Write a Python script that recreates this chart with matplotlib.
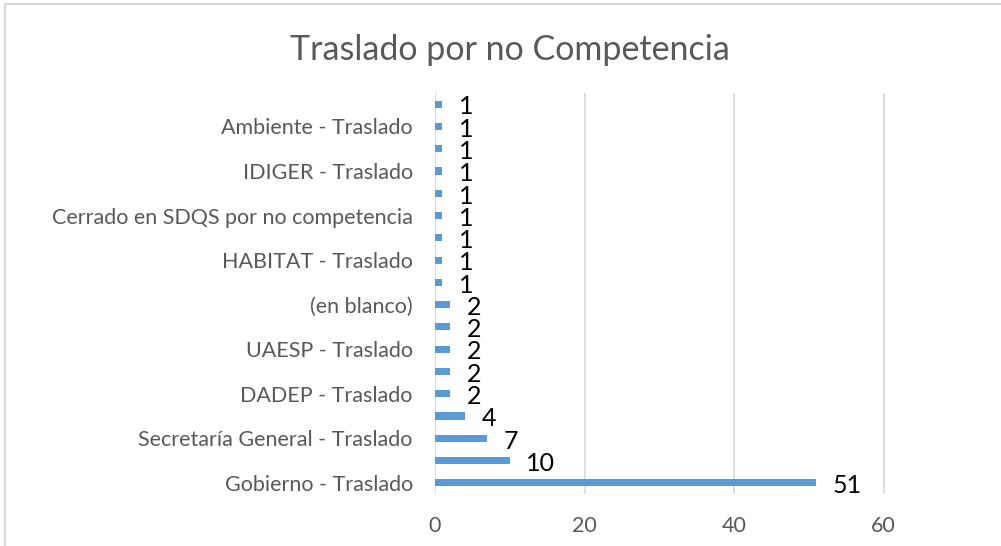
import matplotlib
matplotlib.use("Agg")
import matplotlib.pyplot as plt
from matplotlib.patches import Rectangle

# categories bottom -> top; Excel only printed every other label
categorias = ["Gobierno - Traslado", "", "Secretaría General - Traslado", "",
              "DADEP - Traslado", "", "UAESP - Traslado", "", "(en blanco)", "",
              "HABITAT - Traslado", "", "Cerrado en SDQS por no competencia", "",
              "IDIGER - Traslado", "", "Ambiente - Traslado", ""]
valores = [51, 10, 7, 4, 2, 2, 2, 2, 2, 1, 1, 1, 1, 1, 1, 1, 1, 1]
ticks_x = [0, 20, 40, 60, 80]
ticks_lbl = ["0", "20", "40", "60", ""]   # 80 falls outside the cropped picture

plt.rcParams['font.family'] = ['Lato', 'DejaVu Sans']
gris = "#595959"

fig = plt.figure(figsize=(10.01, 5.46), dpi=100)
W, H = 1001.0, 546.0

# chart border (cropped on right/bottom)
fig.patches.append(Rectangle((5 / W, -0.1), 1.2, (546 - 4) / H + 0.1, transform=fig.transFigure,
                             fill=False, edgecolor="#d9d9d9", linewidth=1.5))

ax = fig.add_axes([435 / W, (H - 494) / H, (1033 - 435) / W, (494 - 93) / H])
ypos = list(range(len(valores)))
ax.barh(ypos, valores, height=0.32, color="#5b9bd5", zorder=3)
ax.set_ylim(-0.5, len(valores) - 0.5)
ax.set_xlim(0, 80)
ax.set_xticks(ticks_x)
ax.set_xticklabels(ticks_lbl)
ax.set_yticks(ypos)
ax.set_yticklabels(categorias)
ax.tick_params(axis='y', length=0, pad=16, labelsize=15.5, labelcolor=gris)
ax.tick_params(axis='x', length=0, pad=16, labelsize=15.5, labelcolor=gris)
ax.grid(axis='x', color="#d9d9d9", linewidth=1.2, zorder=0)
for s in ax.spines.values():
    s.set_visible(False)

for y, v in zip(ypos, valores):
    ax.annotate(str(v), (v, y), xytext=(12, -2), textcoords="offset points",
                ha="left", va="center", fontsize=18, color="black")

fig.text(510 / W, (H - 50) / H, "Traslado por no Competencia", ha="center", va="center",
         fontsize=24.5, color=gris)

fig.savefig("out.png", dpi=100)
